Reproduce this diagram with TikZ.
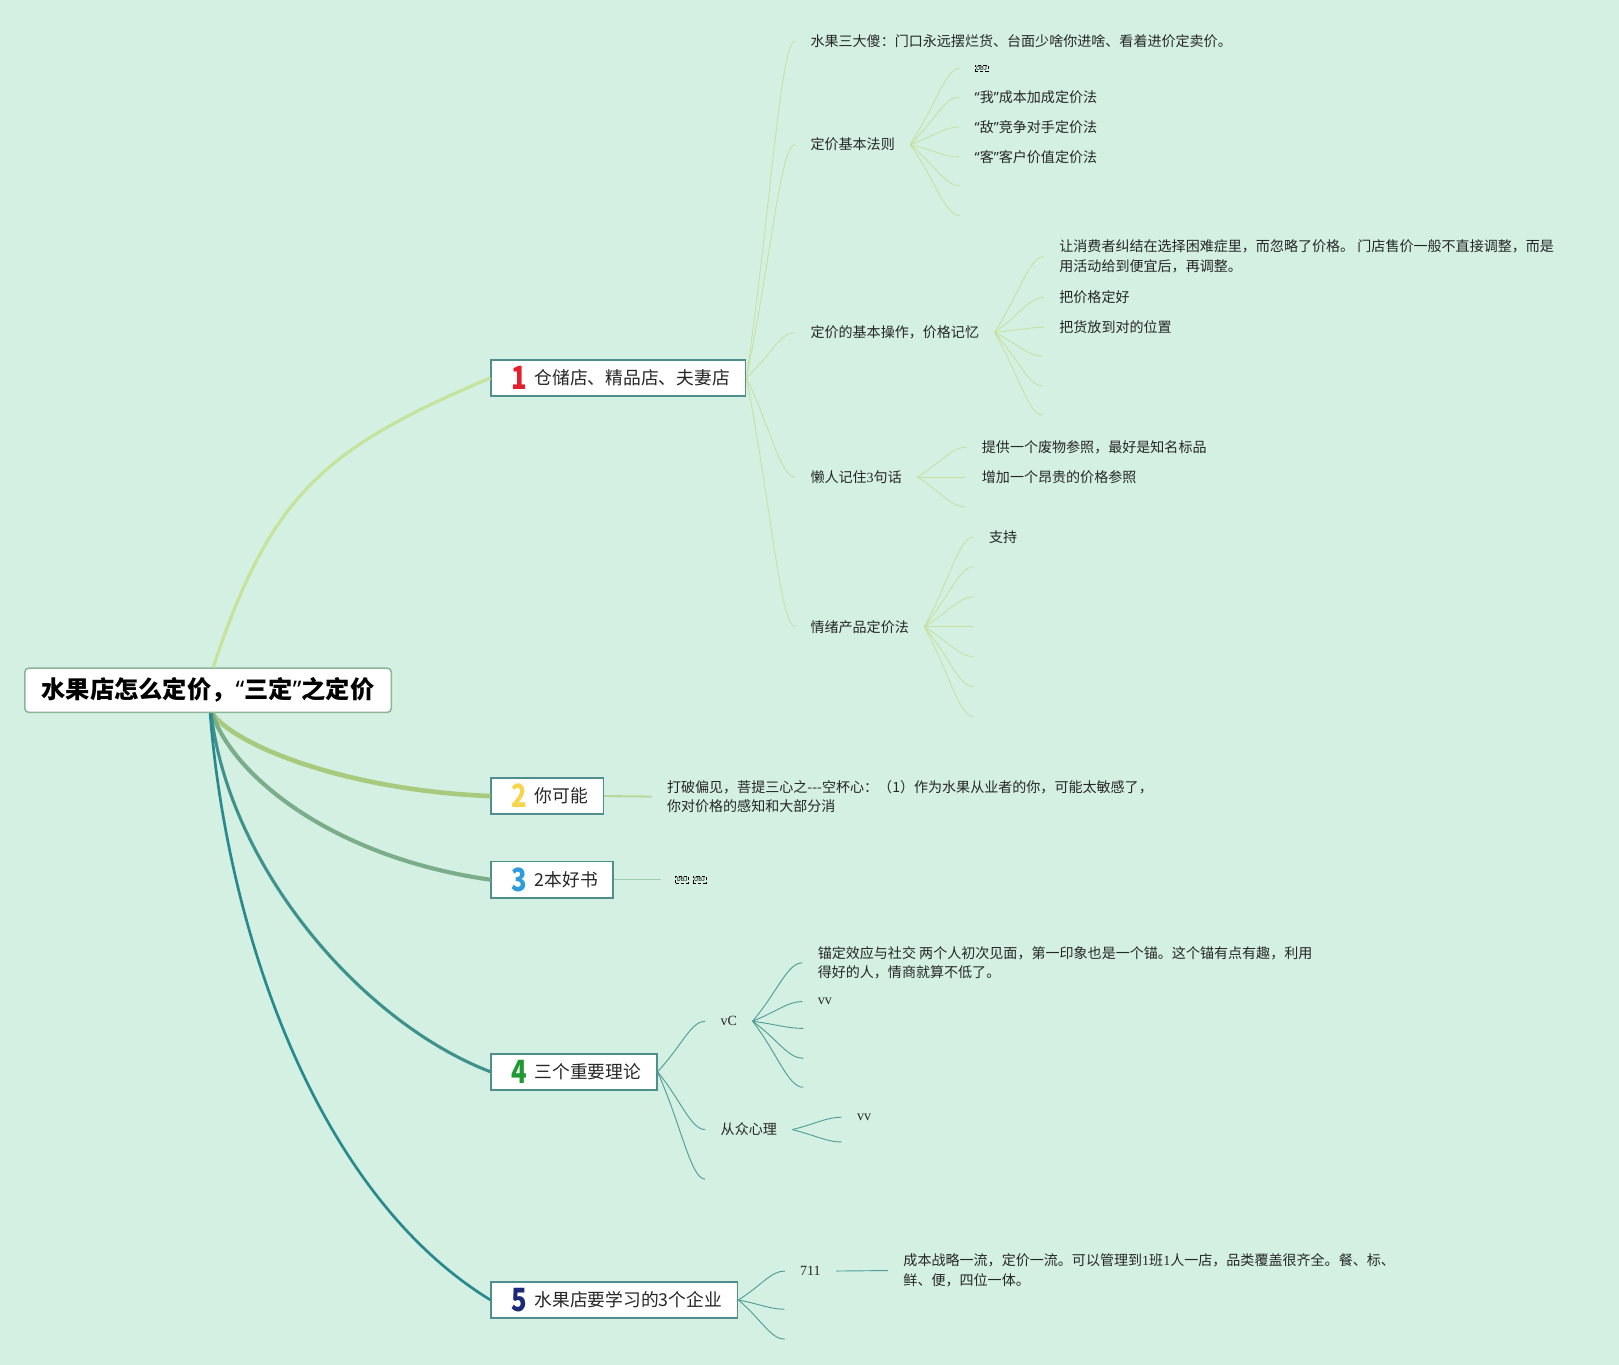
\documentclass[tikz,border=0pt]{standalone}
\usepackage{fontspec}
\setmainfont{Noto Sans CJK SC}
\newfontfamily\latinserif{Liberation Serif}
\newfontfamily\quotefont{Noto Sans}
\usetikzlibrary{calc}
\definecolor{bgmint}{HTML}{D3F0E2}
\definecolor{rootline}{HTML}{8BB596}
\definecolor{boxline}{HTML}{4E8F8D}
\definecolor{brone}{HTML}{C6E39B}
\definecolor{brtwo}{HTML}{A8CA7E}
\definecolor{brthree}{HTML}{7BAD8B}
\definecolor{brfour}{HTML}{3E928B}
\definecolor{brfive}{HTML}{2A898D}
\definecolor{leafgreen}{HTML}{C4E19E}
\definecolor{leafteal}{HTML}{4F9E98}
\definecolor{tailtwo}{HTML}{B9D99C}
\definecolor{tailthree}{HTML}{9FCDB1}
\definecolor{inkgray}{HTML}{262626}
\definecolor{numred}{HTML}{E41E2B}
\definecolor{numyellow}{HTML}{F6D44B}
\definecolor{numblue}{HTML}{2E9BDB}
\definecolor{numgreen}{HTML}{1F9A33}
\definecolor{numnavy}{HTML}{1C2878}
\newcommand\topicnum[2]{\makebox[16pt][c]{\smash{\raisebox{-4.5pt}{\scalebox{0.8}[1]{\color{#1}\fontsize{31}{31}\selectfont\bfseries #2}}}}\hspace{7pt}}
\newcommand\zhlq{{\quotefont “}}
\newcommand\zhrq{{\quotefont ”}}
\tikzset{
  rootbox/.style={draw=rootline, fill=white, rounded corners=4pt, line width=1.5pt,
    minimum width=355pt, minimum height=43pt, text=black,
    font=\fontsize{23.5}{26}\selectfont\bfseries},
  topic/.style={draw=boxline, fill=white, line width=1.6pt, anchor=west,
    minimum height=35pt, inner xsep=15pt, text=inkgray,
    font=\fontsize{17.2}{20}\selectfont},
  leaf/.style={anchor=west, inner sep=0pt, outer xsep=15pt, align=left,
    text=inkgray, font=\fontsize{13.6}{19}\selectfont},
  objtag/.style={draw=black, densely dashed, line width=0.5pt, anchor=west,
    inner xsep=1pt, inner ysep=1pt, font=\fontsize{5.5}{6}\selectfont},
  twig/.style={to path={let \p1=(\tikztostart), \p2=(\tikztotarget) in
    .. controls ($(\p1)!0.5!(\p2)$) and ({\x2-0.3*(\x2-\x1)},\y2) .. (\p2)}},
  twiggreen/.style={twig, draw=leafgreen, line width=0.8pt},
  twigteal/.style={twig, draw=leafteal, line width=0.9pt},
}
\begin{document}
\begin{tikzpicture}[x=1pt, y=-1pt]
  \fill[bgmint] (0,0) rectangle (1568,1322);
  \useasboundingbox (0,0) rectangle (1568,1322);

  % 中心主题
  \node[rootbox] (root) at (201.5,668.5) {水果店怎么定价，\zhlq 三定\zhrq 之定价};

  % 五个分支
  \node[topic] (b1) at (475,366) {\hspace*{4pt}\topicnum{numred}{1}仓储店、精品店、夫妻店};
  \node[topic] (b2) at (475,771) {\hspace*{4pt}\topicnum{numyellow}{2}你可能};
  \node[topic] (b3) at (475,852) {\hspace*{4pt}\topicnum{numblue}{3}2本好书};
  \node[topic] (b4) at (475,1038) {\hspace*{4pt}\topicnum{numgreen}{4}三个重要理论};
  \node[topic] (b5) at (475,1259) {\hspace*{4pt}\topicnum{numnavy}{5}水果店要学习的3个企业};

  \draw[brone, line width=3pt] ([xshift=5pt]root.north) .. controls (262,479) and (314,434) .. (b1.west);
  \draw[brtwo, line width=4.5pt] ([xshift=4pt]root.south) .. controls (225,720) and (330,765) .. (b2.west);
  \draw[brthree, line width=4pt] ([xshift=4pt]root.south) .. controls (225,750) and (320,830) .. (b3.west);
  \draw[brfour, line width=3pt] ([xshift=3pt]root.south) .. controls (222,840) and (350,990) .. (b4.west);
  \draw[brfive, line width=2.6pt] ([xshift=2pt]root.south) .. controls (220,900) and (305,1155) .. (b5.west);

  % 分支一
  \node[leaf] (t11) at (770,40) {水果三大傻：门口永远摆烂货、台面少啥你进啥、看着进价定卖价。};
  \node[leaf] (t12) at (770,140) {定价基本法则};
  \node[leaf] (t13) at (770,322) {定价的基本操作，价格记忆};
  \node[leaf] (t14) at (770,462) {懒人记住{\latinserif 3}句话};
  \node[leaf] (t15) at (770,607) {情绪产品定价法};
  \foreach \t in {t11,t12,t13,t14,t15}
    \draw[twiggreen] (b1.east) to (\t.west);

  \node[objtag] (t121) at (944,66) {OBJ};
  \node[leaf] (t122) at (929,94) {\zhlq 我\zhrq 成本加成定价法};
  \node[leaf] (t123) at (929,123) {\zhlq 敌\zhrq 竞争对手定价法};
  \node[leaf] (t124) at (929,152) {\zhlq 客\zhrq 客户价值定价法};
  \coordinate (c125) at (930,180);
  \coordinate (c126) at (930,209);
  \draw[twiggreen] (t12.east) to ([xshift=-14pt]t121.west);
  \foreach \t in {t122.west,t123.west,t124.west,c125,c126}
    \draw[twiggreen] (t12.east) to (\t);

  \node[leaf] (t131) at (1011,248.5) {让消费者纠结在选择困难症里，而忽略了价格。 门店售价一般不直接调整，而是\\用活动给到便宜后，再调整。};
  \node[leaf] (t132) at (1011,288) {把价格定好};
  \node[leaf] (t133) at (1011,317) {把货放到对的位置};
  \coordinate (c134) at (1010,345);
  \coordinate (c135) at (1010,374);
  \coordinate (c136) at (1010,402);
  \foreach \t in {t131.west,t132.west,t133.west,c134,c135,c136}
    \draw[twiggreen] (t13.east) to (\t);

  \node[leaf] (t141) at (936,433) {提供一个废物参照，最好是知名标品};
  \node[leaf] (t142) at (936,462) {增加一个昂贵的价格参照};
  \coordinate (c143) at (935,491);
  \foreach \t in {t141.west,t142.west,c143}
    \draw[twiggreen] (t14.east) to (\t);

  \node[leaf] (t151) at (943,520) {支持};
  \draw[twiggreen] (t15.east) to (t151.west);
  \foreach \y [count=\i from 2] in {549,578,607,636,665,694} {
    \coordinate (c15\i) at (943,\y);
    \draw[twiggreen] (t15.east) to (c15\i);
  }

  % 分支二、三
  \node[leaf] (t21) at (631,771.5) {打破偏见，菩提三心之-{}-{}-空杯心：（1）作为水果从业者的你，可能太敏感了，\\你对价格的感知和大部分消};
  \draw[tailtwo, line width=2pt] (b2.east) -- (t21.west);
  \node[objtag] (t31) at (654,852) {OBJ};
  \node[objtag] (t32) at (671,852) {OBJ};
  \draw[tailthree, line width=1.5pt] (b3.east) -- ([xshift=-14pt]t31.west);

  % 分支四
  \node[leaf] (t41) at (683,989) {\latinserif vC};
  \node[leaf] (t42) at (683,1094) {从众心理};
  \coordinate (c43) at (683,1142);
  \foreach \t in {t41.west,t42.west,c43}
    \draw[twigteal] (b4.east) to (\t);

  \node[leaf] (t411) at (777,932.5) {锚定效应与社交 两个人初次见面，第一印象也是一个锚。这个锚有点有趣，利用\\得好的人，情商就算不低了。};
  \node[leaf] (t412) at (777,970) {\latinserif vv};
  \coordinate (c413) at (778,996);
  \coordinate (c414) at (778,1025);
  \coordinate (c415) at (778,1053);
  \foreach \t in {t411.west,t412.west,c413,c414,c415}
    \draw[twigteal] (t41.east) to (\t);

  \node[leaf] (t421) at (815,1082) {\latinserif vv};
  \coordinate (c422) at (815,1106);
  \foreach \t in {t421.west,c422}
    \draw[twigteal] (t42.east) to (\t);

  % 分支五
  \node[leaf] (t51) at (760,1231) {\latinserif 711};
  \coordinate (c52) at (760,1268);
  \coordinate (c53) at (760,1297);
  \foreach \t in {t51.west,c52,c53}
    \draw[twigteal] (b5.east) to (\t);
  \node[leaf] (t511) at (860,1230.5) {成本战略一流，定价一流。可以管理到{\latinserif 1}班{\latinserif 1}人一店，品类覆盖很齐全。餐、标、\\鲜、便，四位一体。};
  \draw[twigteal] (t51.east) -- (t511.west);
\end{tikzpicture}
\end{document}
